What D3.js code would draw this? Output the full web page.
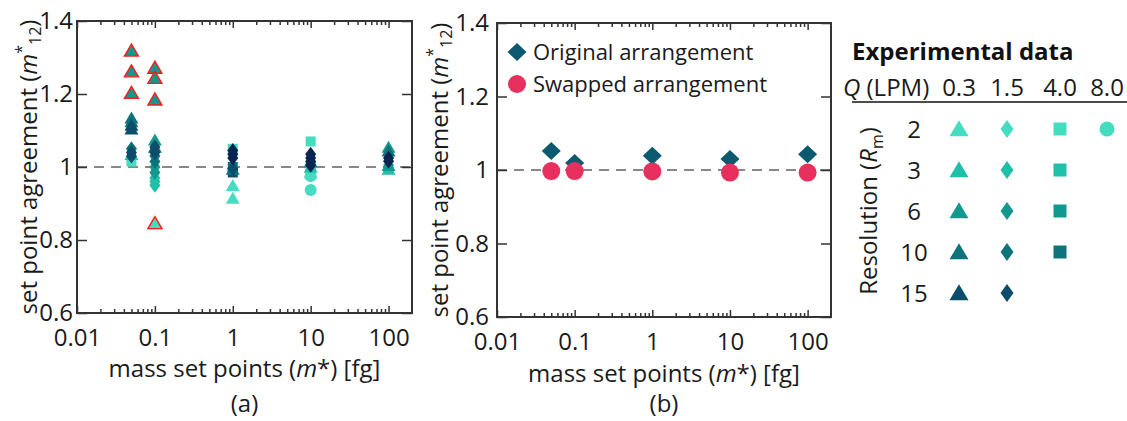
<!DOCTYPE html>
<html>
<head>
<meta charset="utf-8">
<script src="https://cdn.jsdelivr.net/npm/d3@7"></script>
<style>
  body { margin: 0; background: #fff; }
  svg { display: block; font-family: "Open Sans", sans-serif; }
</style>
</head>
<body>
<svg id="chart" width="1127" height="421"></svg>
<script>
// ---------- data ----------
const massTicks = [0.01, 0.1, 1, 10, 100];
const massTickLabels = ["0.01", "0.1", "1", "10", "100"];
const agreeTicks = [0.6, 0.8, 1, 1.2, 1.4];
const agreeTickLabels = ["0.6", "0.8", "1", "1.2", "1.4"];

const resolutions = ["2", "3", "6", "10", "15"];
const flowRates = ["0.3", "1.5", "4.0", "8.0"];
const flowShapes = ["triangle", "diamond", "square", "circle"];
const flowsPerResolution = [4, 3, 3, 3, 2];

// panel (a): [mass, agreement, tone]  tone = resolution index (5 = dense overlap)
const expTriangles = [
    [0.05, 1.03, 1], [0.05, 1.10, 4], [0.05, 1.11, 4], [0.05, 1.12, 3], [0.05, 1.13, 3],
    [0.1, 1.07, 2], [0.1, 1.05, 3],
    [1, 0.91, 0], [1, 0.945, 0], [1, 0.99, 3],
    [10, 0.98, 0], [10, 0.995, 1], [10, 1.01, 2],
    [100, 0.99, 1], [100, 1.0, 2], [100, 1.05, 2], [100, 1.04, 3]
];
const expDiamonds = [
    [0.05, 1.05, 3], [0.05, 1.04, 4], [0.05, 1.03, 4],
    [0.1, 0.95, 1], [0.1, 0.96, 1], [0.1, 0.97, 1], [0.1, 0.985, 2], [0.1, 1.0, 2],
    [0.1, 1.015, 3], [0.1, 1.03, 3], [0.1, 1.04, 4], [0.1, 1.055, 4],
    [1, 0.995, 4], [1, 1.025, 5], [1, 1.035, 5], [1, 1.045, 5],
    [10, 1.005, 5], [10, 1.015, 5], [10, 1.025, 5], [10, 1.035, 5],
    [100, 1.016, 5], [100, 1.025, 5]
];
const expSquares = [
    [0.05, 1.015, 0], [1, 1.05, 0], [1, 0.985, 4], [1, 1.0, 3],
    [10, 1.07, 0], [10, 1.0, 1], [100, 0.995, 2]
];
const expCircles = [
    [10, 0.937, 0], [10, 0.975, 0]
];
const flaggedTriangles = [
    [0.05, 1.315, 2], [0.05, 1.258, 2], [0.05, 1.199, 2],
    [0.1, 1.268, 2], [0.1, 1.240, 2], [0.1, 1.181, 2], [0.1, 0.842, 0]
];

// panel (b)
const arrangementMass = [0.05, 0.1, 1, 10, 100];
const originalValues = [1.052, 1.019, 1.039, 1.030, 1.043];
const swappedValues = [0.997, 0.997, 0.996, 0.993, 0.993];

// ---------- style ----------
const toneColors = ["#45dcc0", "#20bfa8", "#12998f", "#0f737c", "#0b4d6a", "#0b2552"];
const originalColor = "#0b5a70";
const swappedColor = "#e8305e";
const axisColor = "#333";
const textColor = "#1a1a1a";
const fs = 24;

const svg = d3.select("#chart");

function shapePath(type, w, h) {
    if (type === "triangle") return `M0,${-2 * h / 3}L${w / 2},${h / 3}L${-w / 2},${h / 3}Z`;
    if (type === "diamond") return `M0,${-h / 2}L${w / 2},0L0,${h / 2}L${-w / 2},0Z`;
    if (type === "square") return `M${-w / 2},${-w / 2}h${w}v${w}h${-w}Z`;
    const p = d3.path();
    p.arc(0, 0, w / 2, 0, 2 * Math.PI);
    return p.toString();
}

const markerSizeA = { triangle: [14, 12], diamond: [11, 15], square: [10, 10], circle: [12, 12] };

function minorTicks() {
    const out = [];
    for (let e = -2; e < 2; e++) {
        for (let k = 2; k <= 9; k++) out.push(k * Math.pow(10, e));
    }
    return out;
}

function drawPanel(box, opts) {
    const x = d3.scaleLog().domain([0.01, 200]).range([box.left, box.right]);
    const y = d3.scaleLinear().domain([0.6, 1.4]).range([box.bottom, box.top]);
    const g = svg.append("g");

    // dashed reference line at 1
    g.append("line")
        .attr("x1", box.left).attr("x2", box.right)
        .attr("y1", y(1)).attr("y2", y(1))
        .attr("stroke", "#888").attr("stroke-width", 2)
        .attr("stroke-dasharray", "10,7");

    // bottom axis with labels
    const bottom = g.append("g")
        .attr("transform", `translate(0,${box.bottom})`)
        .call(d3.axisBottom(x).tickValues(massTicks)
            .tickFormat((d, i) => massTickLabels[i]).tickSize(-7).tickPadding(16));
    bottom.selectAll("text").attr("font-size", fs).attr("fill", textColor)
        .attr("font-family", "Open Sans");

    g.append("g")
        .attr("transform", `translate(0,${box.bottom})`)
        .call(d3.axisBottom(x).tickValues(minorTicks()).tickFormat("").tickSize(-4));
    g.append("g")
        .attr("transform", `translate(0,${box.top})`)
        .call(d3.axisTop(x).tickValues(massTicks).tickFormat("").tickSize(-7));
    g.append("g")
        .attr("transform", `translate(0,${box.top})`)
        .call(d3.axisTop(x).tickValues(minorTicks()).tickFormat("").tickSize(-4));

    const left = g.append("g")
        .attr("transform", `translate(${box.left},0)`)
        .call(d3.axisLeft(y).tickValues(agreeTicks)
            .tickFormat((d, i) => agreeTickLabels[i]).tickSize(-10).tickPadding(opts.yPad));
    left.selectAll("text").attr("font-size", fs).attr("fill", textColor)
        .attr("font-family", "Open Sans");
    g.append("g")
        .attr("transform", `translate(${box.right},0)`)
        .call(d3.axisRight(y).tickValues(agreeTicks).tickFormat("").tickSize(-10));

    g.selectAll(".domain").remove();
    g.selectAll(".tick line").attr("stroke", axisColor).attr("stroke-width", 1.5);

    g.append("rect")
        .attr("x", box.left).attr("y", box.top)
        .attr("width", box.right - box.left).attr("height", box.bottom - box.top)
        .attr("fill", "none").attr("stroke", axisColor).attr("stroke-width", 2);

    // y label
    const yl = g.append("text")
        .attr("transform", `translate(${opts.yLabelX},${(box.top + box.bottom) / 2}) rotate(-90)`)
        .attr("text-anchor", "middle").attr("font-size", fs).attr("fill", textColor);
    yl.append("tspan").text("set point agreement (");
    yl.append("tspan").attr("font-style", "italic").text("m");
    yl.append("tspan").attr("font-size", 16).attr("dy", -10).text("*");
    yl.append("tspan").attr("font-size", 16).attr("dy", 14).text("12");
    yl.append("tspan").attr("dy", -4).text(")");

    // x label
    const cx = (box.left + box.right) / 2;
    const xl = g.append("text")
        .attr("x", cx).attr("y", opts.xLabelY)
        .attr("text-anchor", "middle").attr("font-size", fs).attr("fill", textColor);
    xl.append("tspan").text("mass set points (");
    xl.append("tspan").attr("font-style", "italic").text("m");
    xl.append("tspan").text("*) [fg]");

    g.append("text")
        .attr("x", cx).attr("y", opts.captionY)
        .attr("text-anchor", "middle").attr("font-size", fs).attr("fill", textColor)
        .text(opts.caption);

    return { g, x, y };
}

// ---------- panel (a) ----------
const pa = drawPanel({ left: 77, right: 412, top: 21, bottom: 313 },
    { yPad: 4, yLabelX: 37, xLabelY: 377, captionY: 412, caption: "(a)" });

function plotSeries(panel, data, type) {
    const [w, h] = markerSizeA[type];
    panel.g.append("g").selectAll("path")
        .data(data.slice().sort((a, b) => a[2] - b[2]))
        .join("path")
        .attr("d", shapePath(type, w, h))
        .attr("transform", d => `translate(${panel.x(d[0])},${panel.y(d[1])})`)
        .attr("fill", d => toneColors[d[2]]);
}

plotSeries(pa, expCircles, "circle");
plotSeries(pa, expSquares, "square");
plotSeries(pa, expTriangles, "triangle");
plotSeries(pa, expDiamonds, "diamond");

pa.g.append("g").selectAll("path")
    .data(flaggedTriangles)
    .join("path")
    .attr("d", shapePath("triangle", 14, 12))
    .attr("transform", d => `translate(${pa.x(d[0])},${pa.y(d[1])})`)
    .attr("fill", d => toneColors[d[2]])
    .attr("stroke", "#ff1a1a").attr("stroke-width", 1.4);

// ---------- panel (b) ----------
const pb = drawPanel({ left: 497, right: 831, top: 23, bottom: 317 },
    { yPad: 8, yLabelX: 448, xLabelY: 382, captionY: 412, caption: "(b)" });

pb.g.append("g").selectAll("path")
    .data(arrangementMass.map((m, i) => [m, originalValues[i]]))
    .join("path")
    .attr("d", shapePath("diamond", 19, 18))
    .attr("transform", d => `translate(${pb.x(d[0])},${pb.y(d[1])})`)
    .attr("fill", originalColor);

pb.g.append("g").selectAll("path")
    .data(arrangementMass.map((m, i) => [m, swappedValues[i]]))
    .join("path")
    .attr("d", shapePath("circle", 18, 18))
    .attr("transform", d => `translate(${pb.x(d[0])},${pb.y(d[1])})`)
    .attr("fill", swappedColor);

// legend (b)
const legB = svg.append("g");
legB.append("path").attr("d", shapePath("diamond", 19, 18))
    .attr("transform", "translate(517,52)").attr("fill", originalColor);
legB.append("path").attr("d", shapePath("circle", 18, 18))
    .attr("transform", "translate(517,84)").attr("fill", swappedColor);
legB.append("text").attr("x", 533).attr("y", 60).attr("font-size", 22)
    .attr("fill", textColor).text("Original arrangement");
legB.append("text").attr("x", 533).attr("y", 92).attr("font-size", 22)
    .attr("fill", textColor).text("Swapped arrangement");

// ---------- experimental data key ----------
const key = svg.append("g");
const colX = [959, 1007, 1060, 1107];
const rowY = [129, 170, 211, 252, 293];
const keySize = { triangle: [19, 16], diamond: [13, 18], square: [13, 13], circle: [15, 15] };

key.append("text").attr("x", 852).attr("y", 60)
    .attr("font-size", 24).attr("font-weight", "bold").attr("fill", "#111")
    .text("Experimental data");

const qh = key.append("text").attr("x", 843).attr("y", 96)
    .attr("font-size", fs).attr("fill", textColor);
qh.append("tspan").attr("font-style", "italic").text("Q");
qh.append("tspan").text(" (LPM)");

key.selectAll("text.flow")
    .data(flowRates)
    .join("text")
    .attr("class", "flow")
    .attr("x", (d, i) => colX[i]).attr("y", 96)
    .attr("text-anchor", "middle").attr("font-size", fs).attr("fill", textColor)
    .text(d => d);

key.append("line").attr("x1", 852).attr("x2", 1127).attr("y1", 102).attr("y2", 102)
    .attr("stroke", "#111").attr("stroke-width", 1.5);

key.selectAll("text.res")
    .data(resolutions)
    .join("text")
    .attr("class", "res")
    .attr("x", 914).attr("y", (d, i) => rowY[i] + 9)
    .attr("text-anchor", "middle").attr("font-size", fs).attr("fill", textColor)
    .text(d => d);

resolutions.forEach((r, ri) => {
    for (let fi = 0; fi < flowsPerResolution[ri]; fi++) {
        const type = flowShapes[fi];
        const [w, h] = keySize[type];
        key.append("path")
            .attr("d", shapePath(type, w, h))
            .attr("transform", `translate(${colX[fi]},${rowY[ri] + (type === "triangle" ? 2 : 0)})`)
            .attr("fill", toneColors[ri]);
    }
});

const rl = key.append("text")
    .attr("transform", "translate(877,211) rotate(-90)")
    .attr("text-anchor", "middle").attr("font-size", fs).attr("fill", textColor);
rl.append("tspan").text("Resolution (");
rl.append("tspan").attr("font-style", "italic").text("R");
rl.append("tspan").attr("font-size", 16).attr("dy", 6).text("m");
rl.append("tspan").attr("dy", -6).text(")");
</script>
</body>
</html>
